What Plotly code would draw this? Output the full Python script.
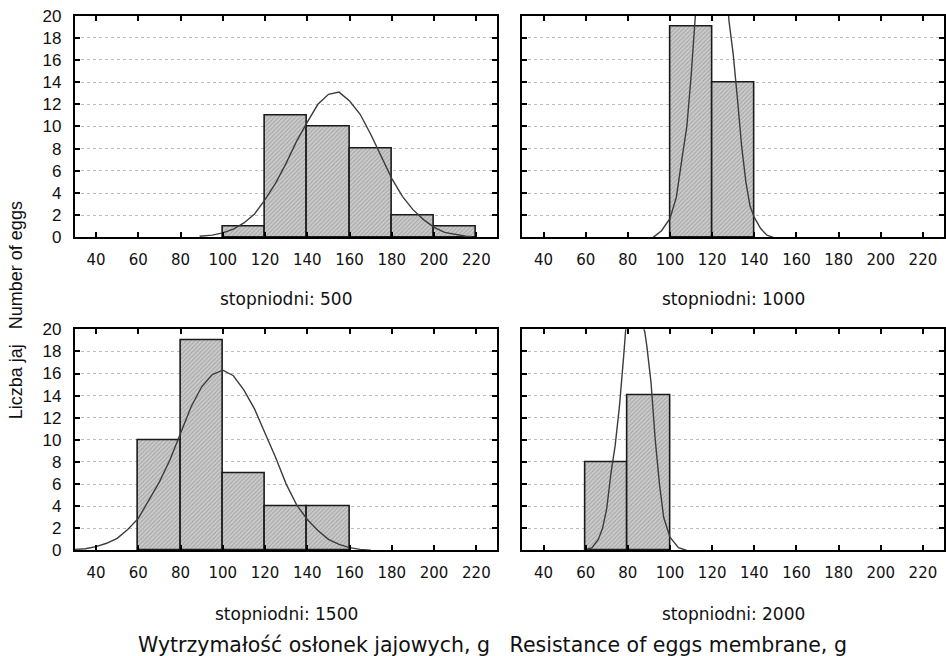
import plotly.graph_objects as go

# ---------------- data ----------------
bin_centers_500 = [110, 130, 150, 170, 190, 210]
counts_500 = [1, 11, 10, 8, 2, 1]
bin_centers_1000 = [110, 130]
counts_1000 = [19, 14]
bin_centers_1500 = [70, 90, 110, 130, 150]
counts_1500 = [10, 19, 7, 4, 4]
bin_centers_2000 = [70, 90]
counts_2000 = [8, 14]

curve_500_x = [89, 95, 100, 105, 110, 115, 120, 125, 130, 135, 140, 145, 150, 155,
               160, 165, 170, 175, 180, 185, 190, 195, 200, 205, 210, 215, 218]
curve_500_y = [0.1, 0.2, 0.4, 0.75, 1.3, 2.1, 3.4, 4.9, 6.7, 8.7, 10.4, 12.0, 12.9, 13.1,
               12.3, 11.1, 9.3, 7.3, 5.3, 3.7, 2.5, 1.6, 0.9, 0.45, 0.25, 0.1, 0.05]
curve_1000_x = [92, 96, 100, 103, 106, 108, 110, 111, 112, 115, 120, 125, 128, 130,
                132, 134, 136, 138, 140, 143, 146, 149]
curve_1000_y = [0, 0.6, 1.7, 3.6, 7.5, 10, 14.5, 18, 20.5, 28, 35, 28, 19.5, 16.5,
                12.5, 8.2, 5.0, 2.8, 1.8, 0.8, 0.2, 0]
curve_1500_x = [30, 35, 40, 45, 50, 55, 60, 65, 70, 75, 80, 85, 90, 95, 100, 105, 110,
                115, 120, 125, 130, 135, 140, 145, 150, 155, 160, 165, 170]
curve_1500_y = [0.1, 0.15, 0.35, 0.65, 1.1, 1.9, 2.9, 4.5, 6.2, 8.2, 10.6, 13.0, 14.8,
                15.9, 16.3, 15.8, 14.5, 12.8, 10.6, 8.4, 6.0, 4.1, 2.8, 1.8, 1.0, 0.55,
                0.25, 0.1, 0.03]
curve_2000_x = [60, 63, 66, 68, 70, 72, 74, 76, 78, 79, 80, 83, 86, 88, 89, 91, 93, 95,
                97, 100, 104, 108]
curve_2000_y = [0.05, 0.25, 1.0, 2.0, 3.8, 7.0, 9.5, 13, 17.5, 20, 21, 22, 21, 19.8,
                18.5, 15.2, 10, 6, 3.0, 1.2, 0.25, 0]

panel_titles = ["stopniodni: 500", "stopniodni: 1000", "stopniodni: 1500", "stopniodni: 2000"]
x_ticks = [40, 60, 80, 100, 120, 140, 160, 180, 200, 220]
y_ticks = [0, 2, 4, 6, 8, 10, 12, 14, 16, 18, 20]
x_title = "Wytrzymałość osłonek jajowych, g\u00a0\u00a0\u00a0Resistance of eggs membrane, g"
y_title = "Liczba jaj\u00a0\u00a0\u00a0Number of eggs"

# ---------------- figure ----------------
W, H = 946, 672
panels = [
    (bin_centers_500, counts_500, curve_500_x, curve_500_y),
    (bin_centers_1000, counts_1000, curve_1000_x, curve_1000_y),
    (bin_centers_1500, counts_1500, curve_1500_x, curve_1500_y),
    (bin_centers_2000, counts_2000, curve_2000_x, curve_2000_y),
]
# pixel boxes (left, right, top, bottom), measured from the top of the page
boxes = [(75, 498, 6.8, 235), (523, 945, 6.8, 235),
         (75, 498, 329.6, 557.2), (523, 945, 329.6, 557.2)]
sub_y = [298.7, 298.7, 622.1, 622.1]

fig = go.Figure()
layout = dict(
    width=W, height=H, margin=dict(l=0, r=0, t=0, b=0),
    paper_bgcolor="white", plot_bgcolor="white", showlegend=False,
    barmode="overlay", bargap=0,
    font=dict(family="Liberation Sans, Arial, sans-serif", color="#111"),
)
annotations = []
for i, (bx, by, cx, cy) in enumerate(panels):
    n = i + 1
    xa = "x" if n == 1 else f"x{n}"
    ya = "y" if n == 1 else f"y{n}"
    fig.add_trace(go.Bar(
        x=bx, y=by, width=20, xaxis=xa, yaxis=ya,
        marker=dict(color="#c8c8c8",
                    line=dict(color="#1a1a1a", width=1.6),
                    pattern=dict(shape="/", fgcolor="#7e7e7e", bgcolor="#cbcbcb",
                                 size=3, solidity=0.35)),
        hoverinfo="skip"))
    fig.add_trace(go.Scatter(
        x=cx, y=cy, mode="lines", xaxis=xa, yaxis=ya,
        line=dict(color="#3c3c3c", width=1.4), hoverinfo="skip"))
    l, r, t, b = boxes[i]
    xkey = "xaxis" if n == 1 else f"xaxis{n}"
    ykey = "yaxis" if n == 1 else f"yaxis{n}"
    layout[xkey] = dict(
        domain=[l / W, r / W], anchor=ya, range=[30, 230],
        tickvals=x_ticks, ticks="inside", ticklen=5, tickwidth=1.5, tickcolor="black",
        showline=True, linecolor="black", linewidth=2, mirror="ticks",
        showgrid=False, zeroline=False, ticklabelstandoff=8,
        tickfont=dict(family="DejaVu Sans, sans-serif", size=15, color="#111"))
    layout[ykey] = dict(
        domain=[1 - b / H, 1 - t / H], anchor=xa, range=[0, 20],
        tickvals=y_ticks, ticks="inside", ticklen=5, tickwidth=1.5, tickcolor="black",
        showline=True, linecolor="black", linewidth=2, mirror="ticks",
        showgrid=True, gridcolor="#bdbdbd", griddash="dot", gridwidth=1,
        zeroline=False, showticklabels=(n in (1, 3)), ticklabelstandoff=8,
        tickfont=dict(size=17, color="#111"))
    annotations.append(dict(
        text=panel_titles[i], x=(l + r) / 2 / W, y=1 - sub_y[i] / H,
        xref="paper", yref="paper", showarrow=False, xanchor="center", yanchor="middle",
        font=dict(family="DejaVu Sans, sans-serif", size=17, color="#111")))

annotations.append(dict(text=x_title, x=493 / W, y=1 - 654.5 / H, xref="paper", yref="paper",
                        showarrow=False, xanchor="center", yanchor="middle",
                        font=dict(family="DejaVu Sans, sans-serif", size=20.5, color="#111")))
annotations.append(dict(text=y_title, x=16 / W, y=1 - 310 / H, xref="paper", yref="paper",
                        showarrow=False, xanchor="center", yanchor="middle", textangle=-90,
                        font=dict(size=18, color="#111")))
layout["annotations"] = annotations
fig.update_layout(**layout)
fig.write_html(
    "out.html",
    config={"displayModeBar": False},
    post_script=("document.body.style.margin='0';"
                 "document.body.style.overflow='hidden';"
                 "document.documentElement.style.overflow='hidden';"),
)
